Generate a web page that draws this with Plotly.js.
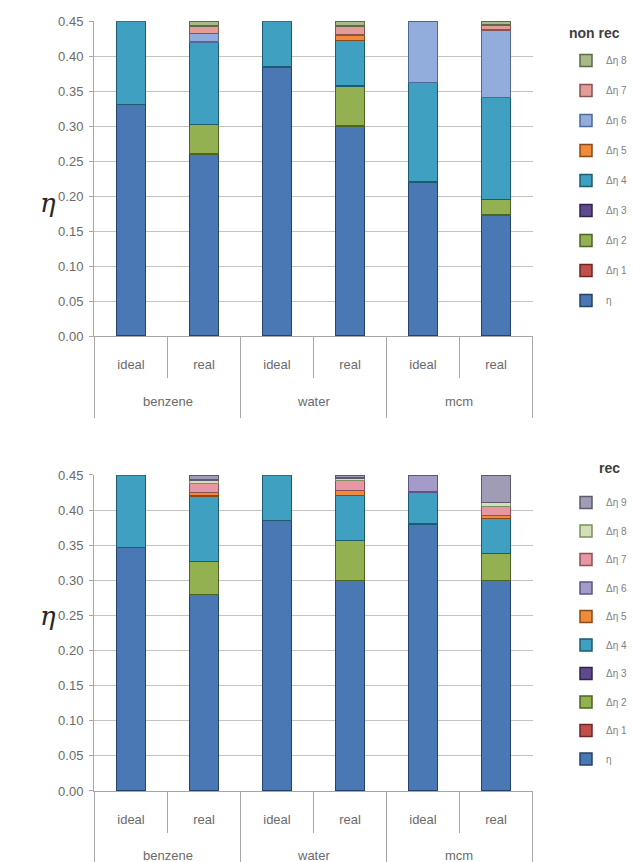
<!DOCTYPE html>
<html>
<head>
<meta charset="utf-8">
<script src="https://cdn.plot.ly/plotly-3.0.1.min.js"></script>
<style>
  html, body { margin: 0; padding: 0; background: #ffffff; }
  #chart { width: 633px; height: 862px; }
</style>
</head>
<body>
<div id="chart"></div>
<script>
// Category axis: fluid (outer level) and case (inner level)
const fluids = ["benzene", "benzene", "water", "water", "mcm", "mcm"];
const cases  = ["ideal", "real", "ideal", "real", "ideal", "real"];

// Efficiency η and loss increments Δη, cycles without recuperation
const nonRecEta = [0.331, 0.260, 0.384, 0.300, 0.220, 0.173];
const nonRecD1  = [0, 0, 0, 0, 0, 0];
const nonRecD2  = [0, 0.042, 0, 0.057, 0, 0.022];
const nonRecD3  = [0, 0, 0, 0, 0, 0];
const nonRecD4  = [0.119, 0.118, 0.066, 0.065, 0.142, 0.146];
const nonRecD5  = [0, 0, 0, 0.008, 0, 0];
const nonRecD6  = [0, 0.012, 0, 0, 0.088, 0.096];
const nonRecD7  = [0, 0.011, 0, 0.013, 0, 0.007];
const nonRecD8  = [0, 0.006, 0, 0.007, 0, 0.006];

// Efficiency η and loss increments Δη, cycles with recuperation
const recEta = [0.347, 0.280, 0.385, 0.300, 0.380, 0.300];
const recD1  = [0, 0, 0, 0, 0, 0];
const recD2  = [0, 0.047, 0, 0.057, 0, 0.038];
const recD3  = [0, 0, 0, 0, 0, 0];
const recD4  = [0.102, 0.093, 0.064, 0.064, 0.046, 0.050];
const recD5  = [0, 0.005, 0, 0.007, 0, 0.004];
const recD6  = [0, 0, 0, 0, 0.024, 0];
const recD7  = [0, 0.013, 0, 0.014, 0, 0.013];
const recD8  = [0, 0.005, 0, 0.004, 0, 0.006];
const recD9  = [0, 0.006, 0, 0.003, 0, 0.038];

const nonRecNames = ["η", "Δη 1", "Δη 2", "Δη 3", "Δη 4", "Δη 5", "Δη 6", "Δη 7", "Δη 8"];
const recNames    = ["η", "Δη 1", "Δη 2", "Δη 3", "Δη 4", "Δη 5", "Δη 6", "Δη 7", "Δη 8", "Δη 9"];

const nonRecSeries = [nonRecEta, nonRecD1, nonRecD2, nonRecD3, nonRecD4, nonRecD5, nonRecD6, nonRecD7, nonRecD8];
const recSeries    = [recEta, recD1, recD2, recD3, recD4, recD5, recD6, recD7, recD8, recD9];

// Fill and outline colours per series
const nonRecFill = ["#4A78B5", "#C0504D", "#93B150", "#5F4B8B", "#3FA0C2", "#F08A3C", "#92ADDB", "#E39C98", "#A9B98A"];
const nonRecEdge = ["#24426A", "#6E2523", "#4E6425", "#30234F", "#1C5B70", "#8A4A18", "#4F6A98", "#8A5350", "#5E6B45"];
const recFill    = ["#4A78B5", "#C0504D", "#93B150", "#5F4B8B", "#3FA0C2", "#F08A3C", "#A59BCB", "#E797A3", "#D3DFB8", "#A09CB6"];
const recEdge    = ["#24426A", "#6E2523", "#4E6425", "#30234F", "#1C5B70", "#8A4A18", "#5E5585", "#8C4F58", "#7F8E5E", "#5D5A6E"];

// One category key per column; the axis shows only the case name
const colKeys = fluids.map((f, i) => f + "|" + cases[i]);

function buildTraces(names, series, fills, edges, xa, ya, legendId, prefix) {
  return names.map((name, i) => ({
    type: "bar",
    x: colKeys,
    y: series[i],
    name: name,
    xaxis: xa,
    yaxis: ya,
    legend: legendId,
    legendgroup: prefix + i,
    legendrank: names.length - i,
    marker: { color: fills[i], line: { color: edges[i], width: 1.5 } },
    hoverinfo: "skip"
  }));
}

const data = [].concat(
  buildTraces(nonRecNames, nonRecSeries, nonRecFill, nonRecEdge, "x", "y", "legend", "nr"),
  buildTraces(recNames, recSeries, recFill, recEdge, "x2", "y2", "legend2", "r")
);

const axisGrey = "#A6A6A6";
const fontFam = "Liberation Sans, Arial, sans-serif";
const labelFont = { family: fontFam, size: 13, color: "#6B6B6B" };
const titleFont = { family: fontFam, size: 14, color: "#404040" };

const W = 633, H = 862;
const topDomain = [0.6102, 0.9756];
const botDomain = [0.0824, 0.4490];

function catAxis(anchor) {
  return {
    domain: [0.1485, 0.842], anchor: anchor, type: "category",
    categoryorder: "array", categoryarray: colKeys,
    tickmode: "array", tickvals: colKeys, ticktext: cases,
    ticks: "", ticklabelstandoff: 16,
    showline: true, linecolor: axisGrey, linewidth: 1,
    showgrid: false, tickfont: labelFont, fixedrange: true
  };
}
function valAxis(anchor, domain) {
  return {
    domain: domain, anchor: anchor, range: [0, 0.45], dtick: 0.05, tickformat: ".2f",
    ticks: "outside", ticklen: 4, tickcolor: axisGrey, ticklabelstandoff: 3,
    showline: true, linecolor: axisGrey, linewidth: 1,
    gridcolor: "#C4C4C4", gridwidth: 1, zeroline: false,
    tickfont: labelFont, fixedrange: true
  };
}

// Boundary lines under the category axis: short ones between cases,
// long ones between fluids, and fluid names centred under their columns
function categoryFrame(xref, domain) {
  const base = domain[0];
  const shapes = [];
  const notes = [];
  for (let b = 0; b <= colKeys.length; b++) {
    const groupEdge = b === 0 || b === colKeys.length || fluids[b] !== fluids[b - 1];
    const len = groupEdge ? 82 : 42;
    shapes.push({
      type: "line", xref: xref, yref: "paper",
      x0: b - 0.5, x1: b - 0.5, y0: base, y1: base - len / H,
      line: { color: axisGrey, width: 1 }
    });
  }
  const names = [...new Set(fluids)];
  names.forEach(name => {
    const idx = fluids.map((f, i) => f === name ? i : -1).filter(i => i >= 0);
    const mid = idx.reduce((a, c) => a + c, 0) / idx.length;
    notes.push({
      text: name, xref: xref, yref: "paper", x: mid, y: base - 65 / H,
      yanchor: "middle", showarrow: false, font: labelFont
    });
  });
  return { shapes, notes };
}

function legendBox(yTopPx, gap) {
  return {
    x: 1, xanchor: "right", y: 1 - yTopPx / H, yanchor: "top",
    traceorder: "grouped", tracegroupgap: gap,
    font: { family: fontFam, size: 10, color: "#7F7F7F" },
    bgcolor: "rgba(0,0,0,0)", borderwidth: 0
  };
}

const topFrame = categoryFrame("x", topDomain);
const botFrame = categoryFrame("x2", botDomain);

const etaLabel = (yPx) => ({
  text: "<i>η</i>", xref: "paper", yref: "paper", x: 38 / W, y: 1 - yPx / H,
  showarrow: false, font: { family: "DejaVu Serif, serif", size: 26, color: "#262626" }
});
const legendHeading = (text, xPx, yPx) => ({
  text: "<b>" + text + "</b>", xref: "paper", yref: "paper", x: xPx / W, y: 1 - yPx / H,
  xanchor: "center", yanchor: "middle", showarrow: false, font: titleFont
});

const layout = {
  width: W, height: H,
  margin: { l: 0, r: 0, t: 0, b: 0 },
  paper_bgcolor: "#ffffff", plot_bgcolor: "#ffffff",
  barmode: "stack", bargap: 0.6,
  font: labelFont,
  xaxis: catAxis("y"),
  yaxis: valAxis("x", topDomain),
  xaxis2: catAxis("y2"),
  yaxis2: valAxis("x2", botDomain),
  legend: legendBox(46, 11),
  legend2: legendBox(488, 9.5),
  shapes: topFrame.shapes.concat(botFrame.shapes),
  annotations: topFrame.notes.concat(botFrame.notes, [
    etaLabel(186), etaLabel(633),
    legendHeading("non rec", 594, 33),
    legendHeading("rec", 609, 468)
  ]),
  showlegend: true
};

Plotly.newPlot("chart", data, layout, { staticPlot: true, displayModeBar: false });
</script>
</body>
</html>
